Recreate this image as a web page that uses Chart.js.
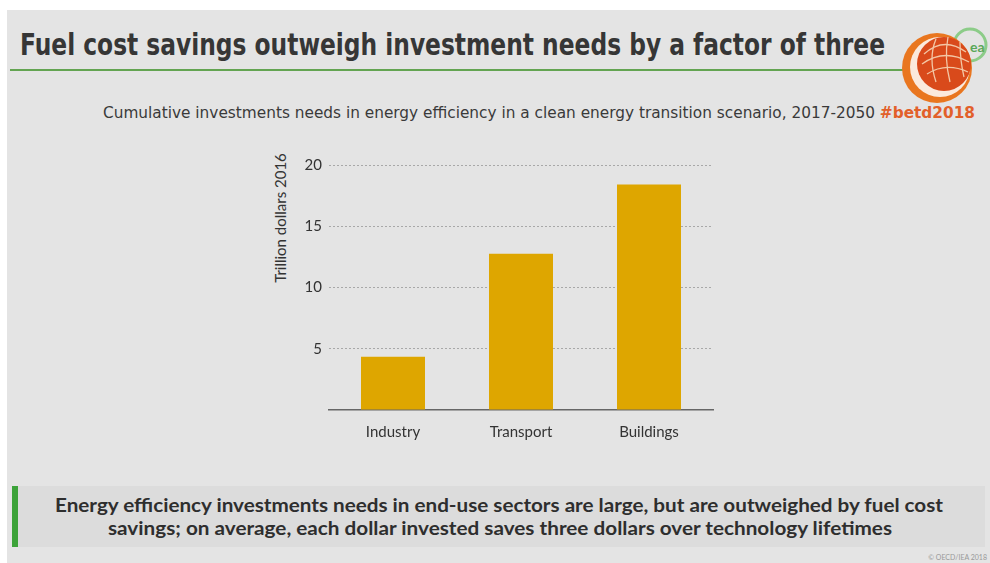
<!DOCTYPE html>
<html>
<head>
<meta charset="utf-8">
<script src="https://cdn.jsdelivr.net/npm/chart.js@4.4.1/dist/chart.umd.min.js"></script>
<style>
  html, body { margin: 0; padding: 0; background: #fff; }
  body { width: 990px; height: 563px; position: relative; overflow: hidden; font-family: Lato, "Open Sans", sans-serif; }
  .slide { position: absolute; left: 7px; top: 10px; width: 983px; height: 553px; background: #e4e4e4; }
  .fit { position: absolute; white-space: nowrap; transform-origin: 0 50%; }
  #title { left: 20px; top: 27px; font-family: "DejaVu Sans Condensed", "DejaVu Sans", sans-serif; font-size: 30px; font-weight: bold; color: #363636; }
  #rule { position: absolute; left: 10px; top: 69px; width: 900px; height: 2px; background: #63a451; }
  #subtitle { left: 103px; top: 104px; font-family: "DejaVu Sans", sans-serif; font-size: 15px; color: #3a3a3a; }
  #subtitle b { color: #e2602a; }
  #ytitle { position: absolute; left: 280px; top: 218px; transform: translate(-50%, -50%) rotate(-90deg); font-size: 15px; color: #333; white-space: nowrap; }
  #chartBox { position: absolute; left: 260px; top: 140px; width: 470px; height: 310px; }
  #footer { position: absolute; left: 12px; top: 486px; width: 973px; height: 61px; background: #dcdcdc; }
  #footer .bar { position: absolute; left: 0; top: 0; width: 6px; height: 61px; background: #3da33a; }
  .fl { font-family: Lato, sans-serif; font-weight: bold; font-size: 18px; color: #2e2e2e; }
  #f1 { left: 55px; top: 494px; }
  #f2 { left: 108px; top: 517px; }
  #copy { position: absolute; right: 3px; top: 553px; font-size: 7px; color: #999; }
  #logo { position: absolute; left: 900px; top: 22px; width: 90px; height: 90px; }
</style>
</head>
<body>
<div class="slide"></div>
<div id="title" class="fit" data-w="865">Fuel cost savings outweigh investment needs by a factor of three</div>
<div id="rule"></div>
<svg id="logo" viewBox="0 0 90 90">
  <circle cx="70" cy="23" r="16" fill="none" stroke="#8ccc88" stroke-width="3"/>
  <text x="70" y="30" font-family="Lato, sans-serif" font-size="14" font-weight="bold" fill="#5aa858">ea</text>
  <circle cx="37" cy="46" r="35" fill="#e9761f"/>
  <circle cx="40" cy="45" r="30" fill="#fbe9dc"/>
  <circle cx="44" cy="42" r="27" fill="#d94a1b"/>
  <g fill="none" stroke="#f3c6a5" stroke-width="1.3">
    <path d="M24 32 Q44 14 66 30"/>
    <path d="M22 42 Q44 26 69 40"/>
    <path d="M27 52 Q46 40 68 50"/>
    <path d="M36 17 Q28 36 36 60"/>
    <path d="M48 15 Q44 36 50 60"/>
    <path d="M60 20 Q60 38 64 55"/>
  </g>
</svg>
<div id="subtitle" class="fit" data-w="872">Cumulative investments needs in energy efficiency in a clean energy transition scenario, 2017-2050 <b>#betd2018</b></div>
<div id="ytitle">Trillion dollars 2016</div>
<div id="chartBox"><canvas id="chart" width="470" height="310"></canvas></div>
<div id="footer"><div class="bar"></div></div>
<div id="f1" class="fit fl" data-w="888">Energy efficiency investments needs in end-use sectors are large, but are outweighed by fuel cost</div>
<div id="f2" class="fit fl" data-w="784">savings; on average, each dollar invested saves three dollars over technology lifetimes</div>
<div id="copy">© OECD/IEA 2018</div>

<script>
'use strict';

// ============================================================
// DATA
// ============================================================
const sectors     = ['Industry', 'Transport', 'Buildings'];
const investments = [4.35, 12.75, 18.4];   // trillion USD 2016
const yTicks      = [0, 5, 10, 15, 20];

// ============================================================
// TEXT FITTING (stretch each line to its width in the slide)
// ============================================================
document.querySelectorAll('.fit').forEach(el => {
  const target = +el.dataset.w;
  const w = el.getBoundingClientRect().width;
  if (w > 0) el.style.transform = `scaleX(${target / w})`;
});

// ============================================================
// CHART
// ============================================================
new Chart(document.getElementById('chart'), {
  type: 'bar',
  data: {
    labels: sectors,
    datasets: [{
      data: investments,
      backgroundColor: '#dea600',
      borderWidth: 0,
      barPercentage: 0.5,
      categoryPercentage: 1,
    }]
  },
  options: {
    responsive: false, animation: false,
    layout: { padding: { top: 25, right: 17, left: 0, bottom: 0 } },
    plugins: { legend: { display: false }, tooltip: { enabled: false } },
    scales: {
      x: {
        grid: { display: false },
        border: { color: '#666', width: 1.5 },
        ticks: { color: '#333', padding: 5, font: { family: 'Lato', size: 15 } },
        afterFit: s => { s.height = 40; }
      },
      y: {
        min: yTicks[0], max: yTicks[yTicks.length - 1],
        afterBuildTicks: s => { s.ticks = yTicks.map(v => ({ value: v })); },
        grid: {
          color: ctx => ctx.tick && ctx.tick.value === 0 ? 'rgba(0,0,0,0)' : '#a8a8a8',
          lineWidth: 1, drawTicks: false
        },
        border: { display: false, dash: [2, 2] },
        ticks: {
          color: '#333', padding: 7, font: { family: 'Lato', size: 15 },
          callback: v => v === 0 ? '' : v
        },
        afterFit: s => { s.width = 69; }
      }
    }
  }
});
</script>
</body>
</html>
